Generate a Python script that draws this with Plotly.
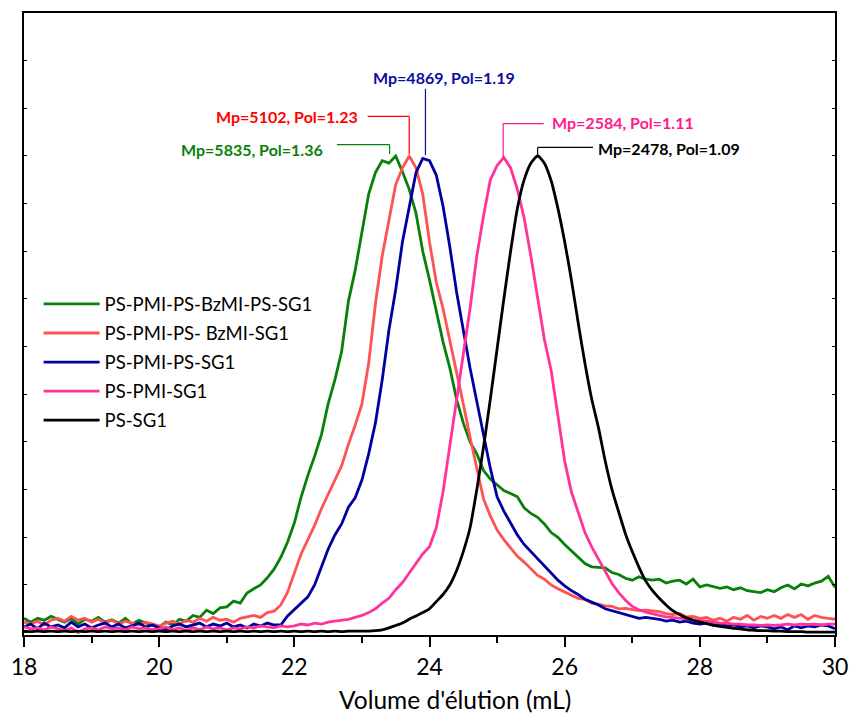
import plotly.graph_objects as go

# Elution volume grid (mL), 0.1 mL step from 18.0 to 30.0
volume = [round(18 + 0.1 * i, 1) for i in range(121)]

series_names = ["PS-PMI-PS-BzMI-PS-SG1", "PS-PMI-PS- BzMI-SG1", "PS-PMI-PS-SG1", "PS-PMI-SG1", "PS-SG1"]
series_colors = ["#0a800a", "#ff5252", "#0000a0", "#ff3399", "#000000"]
label_colors = ["#0a800a", "#ff0000", "#0d0d9e", "#ff1a8c", "#000000"]

ps_pmi_ps_bzmi_ps_sg1 = [
    0.030, 0.022, 0.030, 0.026, 0.034, 0.028, 0.022, 0.030, 0.018, 0.028,
    0.024, 0.032, 0.022, 0.027, 0.020, 0.030, 0.018, 0.026, 0.020, 0.015,
    0.012, 0.022, 0.016, 0.028, 0.024, 0.036, 0.032, 0.047, 0.040, 0.052,
    0.054, 0.066, 0.062, 0.083, 0.092, 0.100, 0.115, 0.133, 0.158, 0.190,
    0.230, 0.284, 0.330, 0.370, 0.415, 0.480, 0.530, 0.590, 0.695, 0.760,
    0.840, 0.920, 0.965, 0.990, 0.985, 1.000, 0.967, 0.930, 0.880, 0.800,
    0.740, 0.675, 0.610, 0.556, 0.490, 0.440, 0.400, 0.375, 0.340, 0.322,
    0.310, 0.298, 0.292, 0.285, 0.262, 0.250, 0.242, 0.228, 0.210, 0.200,
    0.185, 0.172, 0.158, 0.145, 0.138, 0.137, 0.136, 0.126, 0.122, 0.114,
    0.110, 0.117, 0.112, 0.110, 0.112, 0.104, 0.108, 0.110, 0.102, 0.112,
    0.096, 0.100, 0.096, 0.093, 0.096, 0.090, 0.094, 0.088, 0.086, 0.084,
    0.090, 0.086, 0.094, 0.100, 0.092, 0.102, 0.098, 0.104, 0.108, 0.118,
    0.095,
]
ps_pmi_ps_bzmi_sg1 = [
    0.022, 0.018, 0.024, 0.016, 0.026, 0.030, 0.024, 0.034, 0.026, 0.030,
    0.022, 0.028, 0.020, 0.026, 0.018, 0.024, 0.020, 0.016, 0.022, 0.018,
    0.014, 0.020, 0.024, 0.018, 0.026, 0.022, 0.030, 0.024, 0.032, 0.026,
    0.028, 0.022, 0.030, 0.033, 0.036, 0.032, 0.042, 0.045, 0.058, 0.085,
    0.125, 0.165, 0.195, 0.225, 0.260, 0.290, 0.320, 0.350, 0.395, 0.435,
    0.480, 0.565, 0.690, 0.790, 0.865, 0.940, 0.975, 1.000, 0.975, 0.920,
    0.820, 0.735, 0.680, 0.615, 0.550, 0.480, 0.410, 0.345, 0.280, 0.245,
    0.215, 0.195, 0.178, 0.160, 0.148, 0.135, 0.120, 0.112, 0.100, 0.092,
    0.085, 0.078, 0.072, 0.070, 0.062, 0.060, 0.056, 0.055, 0.050, 0.051,
    0.048, 0.046, 0.047, 0.045, 0.044, 0.040, 0.038, 0.040, 0.033, 0.034,
    0.030, 0.032, 0.026, 0.030, 0.024, 0.032, 0.028, 0.036, 0.026, 0.034,
    0.030, 0.036, 0.030, 0.038, 0.032, 0.038, 0.028, 0.036, 0.032, 0.030,
    0.028,
]
ps_pmi_ps_sg1 = [
    0.012, 0.018, 0.008, 0.020, 0.012, 0.016, 0.010, 0.022, 0.012, 0.018,
    0.010, 0.016, 0.020, 0.012, 0.018, 0.010, 0.014, 0.020, 0.012, 0.016,
    0.010, 0.006, 0.014, 0.018, 0.012, 0.016, 0.020, 0.012, 0.018, 0.014,
    0.020, 0.012, 0.016, 0.010, 0.018, 0.014, 0.020, 0.016, 0.016, 0.035,
    0.048, 0.060, 0.075, 0.100, 0.137, 0.175, 0.205, 0.228, 0.263, 0.283,
    0.320, 0.375, 0.440, 0.530, 0.635, 0.720, 0.820, 0.890, 0.965, 0.995,
    0.990, 0.960, 0.895, 0.810, 0.715, 0.635, 0.555, 0.485, 0.417, 0.345,
    0.285, 0.255, 0.230, 0.205, 0.185, 0.170, 0.155, 0.140, 0.125, 0.110,
    0.098, 0.088, 0.080, 0.070, 0.064, 0.058, 0.050, 0.046, 0.041, 0.038,
    0.034, 0.030, 0.032, 0.030, 0.028, 0.024, 0.026, 0.022, 0.024, 0.020,
    0.018, 0.020, 0.015, 0.018, 0.014, 0.016, 0.012, 0.014, 0.010, 0.014,
    0.012, 0.008, 0.012, 0.006, 0.014, 0.010, 0.014, 0.012, 0.016, 0.014,
    0.008,
]
ps_pmi_sg1 = [
    0.012, 0.008, 0.010, 0.006, 0.012, 0.008, 0.004, 0.010, 0.000, 0.008,
    0.010, 0.006, 0.012, 0.008, 0.010, 0.006, 0.012, 0.008, 0.010, 0.006,
    0.008, 0.012, 0.006, 0.010, 0.004, 0.010, 0.006, 0.012, 0.008, 0.010,
    0.006, 0.010, 0.008, 0.012, 0.010, 0.014, 0.012, 0.010, 0.014, 0.012,
    0.014, 0.018, 0.016, 0.020, 0.018, 0.022, 0.024, 0.026, 0.028, 0.032,
    0.036, 0.042, 0.050, 0.062, 0.072, 0.090, 0.105, 0.125, 0.145, 0.165,
    0.180, 0.220, 0.295, 0.390, 0.485, 0.585, 0.680, 0.790, 0.875, 0.950,
    0.980, 0.997, 0.975, 0.930, 0.870, 0.790, 0.700, 0.615, 0.550, 0.460,
    0.360, 0.295, 0.250, 0.210, 0.180, 0.155, 0.128, 0.103, 0.084, 0.068,
    0.055, 0.048, 0.043, 0.039, 0.036, 0.033, 0.032, 0.030, 0.029, 0.027,
    0.026, 0.024, 0.022, 0.020, 0.020, 0.018, 0.018, 0.016, 0.016, 0.015,
    0.016, 0.015, 0.016, 0.018, 0.016, 0.018, 0.017, 0.018, 0.016, 0.018,
    0.018,
]
ps_sg1 = [
    0.003, 0.002, 0.003, 0.002, 0.003, 0.002, 0.003, 0.002, 0.003, 0.002,
    0.003, 0.002, 0.003, 0.002, 0.003, 0.002, 0.003, 0.002, 0.003, 0.002,
    0.003, 0.002, 0.003, 0.002, 0.003, 0.002, 0.003, 0.002, 0.003, 0.002,
    0.003, 0.002, 0.003, 0.002, 0.003, 0.002, 0.003, 0.002, 0.003, 0.002,
    0.003, 0.002, 0.003, 0.002, 0.003, 0.002, 0.003, 0.002, 0.003, 0.003,
    0.003, 0.003, 0.004, 0.006, 0.010, 0.015, 0.020, 0.028, 0.035, 0.042,
    0.050, 0.065, 0.080, 0.100, 0.130, 0.170, 0.220, 0.300, 0.390, 0.490,
    0.595, 0.700, 0.800, 0.890, 0.950, 0.985, 1.000, 0.985, 0.948, 0.890,
    0.820, 0.740, 0.650, 0.565, 0.490, 0.430, 0.360, 0.300, 0.253, 0.207,
    0.170, 0.137, 0.108, 0.088, 0.072, 0.058, 0.046, 0.038, 0.031, 0.026,
    0.022, 0.019, 0.016, 0.013, 0.011, 0.009, 0.008, 0.006, 0.005, 0.004,
    0.004, 0.003, 0.003, 0.002, 0.002, 0.002, 0.001, 0.001, 0.001, 0.001,
    0.001,
]
series_values = [ps_pmi_ps_bzmi_ps_sg1, ps_pmi_ps_bzmi_sg1, ps_pmi_ps_sg1, ps_pmi_sg1, ps_sg1]

# Peak labels
peak_labels = ["Mp=5835, Pol=1.36", "Mp=5102, Pol=1.23", "Mp=4869, Pol=1.19",
               "Mp=2584, Pol=1.11", "Mp=2478, Pol=1.09"]
peak_volume = [23.41, 23.70, 23.94, 25.09, 25.60]
x_title = "Volume d'élution (mL)"

FONT = "Lato"

fig = go.Figure()
for name, vals, col in zip(series_names, series_values, series_colors):
    fig.add_trace(go.Scatter(
        x=volume, y=vals, mode="lines", name=name,
        line=dict(color=col, width=2.8, shape="spline" if name == "PS-SG1" else "linear", smoothing=0.6),
        legendgroup=name,
    ))

shapes = []
annos = []
g = dict(color=label_colors[0], width=1.2)
shapes += [dict(type="line", x0=22.63, x1=peak_volume[0], y0=1.024, y1=1.024, line=g),
           dict(type="line", x0=peak_volume[0], x1=peak_volume[0], y0=1.024, y1=1.004, line=g)]
annos.append(dict(x=22.455, y=1.013, text=peak_labels[0], xanchor="right", font_color=label_colors[0]))
r = dict(color=label_colors[1], width=1.2)
shapes += [dict(type="line", x0=23.085, x1=peak_volume[1], y0=1.083, y1=1.083, line=r),
           dict(type="line", x0=peak_volume[1], x1=peak_volume[1], y0=1.083, y1=1.003, line=r)]
annos.append(dict(x=22.968, y=1.082, text=peak_labels[1], xanchor="right", font_color=label_colors[1]))
b = dict(color=label_colors[2], width=1.2)
shapes += [dict(type="line", x0=peak_volume[2], x1=peak_volume[2], y0=1.141, y1=1.002, line=b)]
annos.append(dict(x=24.22, y=1.164, text=peak_labels[2], xanchor="center", font_color=label_colors[2]))
p = dict(color=label_colors[3], width=1.2)
shapes += [dict(type="line", x0=peak_volume[3], x1=25.69, y0=1.068, y1=1.068, line=p),
           dict(type="line", x0=peak_volume[3], x1=peak_volume[3], y0=1.068, y1=0.998, line=p)]
annos.append(dict(x=25.78, y=1.070, text=peak_labels[3], xanchor="left", font_color=label_colors[3]))
k = dict(color=label_colors[4], width=1.2)
shapes += [dict(type="line", x0=peak_volume[4], x1=26.42, y0=1.018, y1=1.018, line=k),
           dict(type="line", x0=peak_volume[4], x1=peak_volume[4], y0=1.018, y1=1.0, line=k)]
annos.append(dict(x=26.467, y=1.015, text=peak_labels[4], xanchor="left", font_color=label_colors[4]))

for a in annos:
    fig.add_annotation(x=a["x"], y=a["y"], text="<b>" + a["text"] + "</b>", xref="x", yref="y",
                       xanchor=a["xanchor"], yanchor="middle", showarrow=False,
                       font=dict(family=FONT, size=16, color=a["font_color"]))

# x-axis title (placed as in the reference, slightly right of centre)
fig.add_annotation(x=0.532, y=-0.104, xref="paper", yref="paper", text=x_title,
                   showarrow=False, xanchor="center", yanchor="middle",
                   font=dict(family=FONT, size=24.5, color="black"))

fig.update_layout(
    width=859, height=714,
    margin=dict(l=22, r=16, t=11, b=79),
    paper_bgcolor="white", plot_bgcolor="white",
    shapes=shapes,
    font=dict(family=FONT, color="black"),
    showlegend=True,
    legend=dict(x=0.018, y=0.562, xanchor="left", yanchor="top",
                bgcolor="rgba(0,0,0,0)", font=dict(family=FONT, size=18.5, color="black"),
                itemwidth=56, traceorder="grouped", tracegroupgap=2),
    xaxis=dict(range=[18, 30], tickmode="array", tickvals=[18, 20, 22, 24, 26, 28, 30],
               ticks="outside", ticklen=10, tickwidth=2, tickcolor="black",
               minor=dict(tickvals=[19, 21, 23, 25, 27, 29], ticks="outside", ticklen=6, tickwidth=2, tickcolor="black"),
               showline=True, linewidth=2, linecolor="black", mirror=True,
               showgrid=False, zeroline=False,
               tickfont=dict(family=FONT, size=23, color="black")),
    yaxis=dict(range=[-0.005, 1.3], showticklabels=False, dtick=0.1, tick0=0,
               ticks="inside", ticklen=3, tickwidth=1, tickcolor="black",
               showline=True, linewidth=2, linecolor="black", mirror="ticks",
               showgrid=False, zeroline=False),
)

fig.write_html("out.html", config={"displayModeBar": False},
               post_script="document.body.style.margin='0';")
